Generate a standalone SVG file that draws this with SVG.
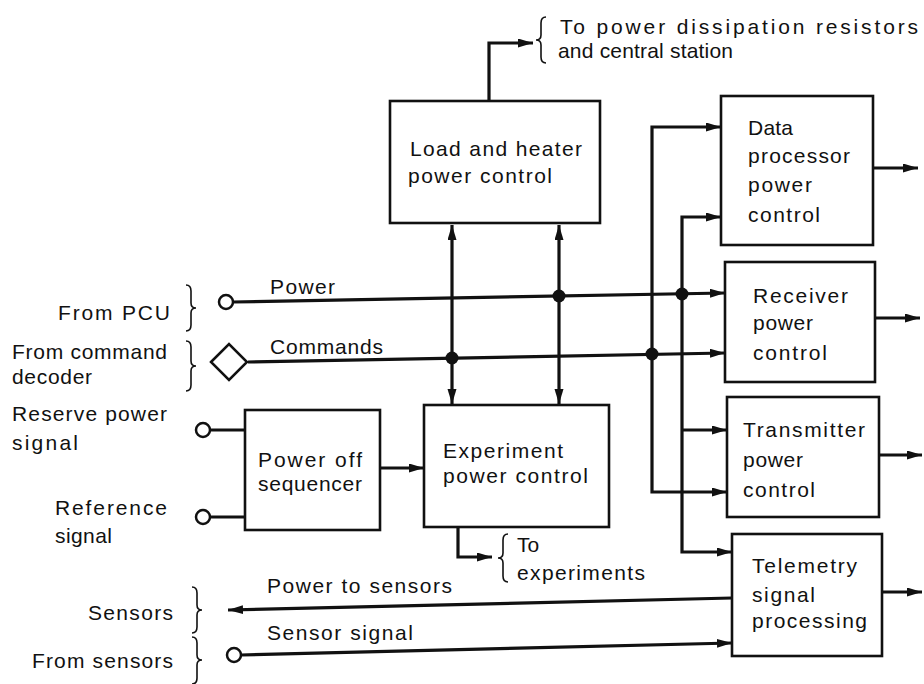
<svg xmlns="http://www.w3.org/2000/svg" width="924" height="684" viewBox="0 0 924 684">
<style>
  text { font-family: "Liberation Sans", Arial, sans-serif; font-size: 21px; fill: #111; }
  .box { fill: #fff; stroke: #111; stroke-width: 2.6; }
  .ln { fill: none; stroke: #111; stroke-width: 3.2; }
  .arr { marker-end: url(#ah); }
  .dbl { marker-start: url(#ah); marker-end: url(#ah); }
  .term { fill: #fff; stroke: #111; stroke-width: 2.5; }
  .brace { fill: none; stroke: #111; stroke-width: 1.6; }
  .dot { fill: #111; }
</style>
<defs>
  <marker id="ah" markerUnits="userSpaceOnUse" markerWidth="16" markerHeight="10" refX="15" refY="4.5" orient="auto-start-reverse">
    <path d="M0,0 L15,4.5 L0,9 z" fill="#111"/>
  </marker>
</defs>
<rect width="924" height="684" fill="#fff"/>

<g id="connectors">
  <path class="ln arr" d="M489,101 V43 H533"/>
  <line class="ln dbl" x1="452" y1="225" x2="452" y2="404"/>
  <line class="ln dbl" x1="559" y1="225" x2="559" y2="404"/>
  <line class="ln arr" x1="233" y1="302" x2="725" y2="293"/>
  <line class="ln arr" x1="248" y1="362" x2="725" y2="353"/>
  <path class="ln dbl" d="M721,127 H652 V492 H727"/>
  <path class="ln dbl" d="M721,217 H682 V552 H732"/>
  <path class="ln arr" d="M682,430 H727"/>
  <line class="ln" x1="210" y1="430" x2="245" y2="430"/>
  <line class="ln" x1="210" y1="517" x2="245" y2="517"/>
  <line class="ln arr" x1="380" y1="468" x2="424" y2="468"/>
  <path class="ln arr" d="M458,527 V557 H492"/>
  <line class="ln arr" x1="873" y1="168" x2="918" y2="168"/>
  <line class="ln arr" x1="875" y1="318" x2="920" y2="318"/>
  <line class="ln arr" x1="879" y1="455" x2="922" y2="455"/>
  <line class="ln arr" x1="882" y1="592" x2="922" y2="592"/>
  <line class="ln arr" x1="732" y1="598" x2="228" y2="610"/>
  <line class="ln arr" x1="241" y1="655" x2="732" y2="643"/>
  <circle class="dot" cx="452" cy="358" r="6.5"/>
  <circle class="dot" cx="559" cy="296" r="6.5"/>
  <circle class="dot" cx="652" cy="354" r="6.5"/>
  <circle class="dot" cx="682" cy="294" r="6.5"/>
  <text x="270" y="294" textLength="65" lengthAdjust="spacing">Power</text>
  <text x="270" y="354" textLength="113" lengthAdjust="spacing">Commands</text>
  <text x="267" y="593" textLength="185" lengthAdjust="spacing">Power to sensors</text>
  <text x="267" y="640" textLength="146" lengthAdjust="spacing">Sensor signal</text>
</g>

<g id="load-heater">
  <rect class="box" x="390" y="101" width="210" height="122"/>
  <text x="410" y="156" textLength="172" lengthAdjust="spacing">Load and heater</text>
  <text x="408" y="183" textLength="144" lengthAdjust="spacing">power control</text>
</g>

<g id="data-processor">
  <rect class="box" x="721" y="96" width="152" height="149"/>
  <text x="748" y="135" textLength="45" lengthAdjust="spacing">Data</text>
  <text x="748" y="163" textLength="102" lengthAdjust="spacing">processor</text>
  <text x="748" y="192" textLength="64" lengthAdjust="spacing">power</text>
  <text x="748" y="222" textLength="72" lengthAdjust="spacing">control</text>
</g>

<g id="receiver">
  <rect class="box" x="725" y="262" width="150" height="120"/>
  <text x="753" y="303" textLength="95" lengthAdjust="spacing">Receiver</text>
  <text x="753" y="330" textLength="60" lengthAdjust="spacing">power</text>
  <text x="753" y="360" textLength="74" lengthAdjust="spacing">control</text>
</g>

<g id="transmitter">
  <rect class="box" x="727" y="397" width="152" height="120"/>
  <text x="743" y="437" textLength="122" lengthAdjust="spacing">Transmitter</text>
  <text x="743" y="467" textLength="60" lengthAdjust="spacing">power</text>
  <text x="743" y="497" textLength="72" lengthAdjust="spacing">control</text>
</g>

<g id="telemetry">
  <rect class="box" x="732" y="534" width="150" height="122"/>
  <text x="752" y="573" textLength="105" lengthAdjust="spacing">Telemetry</text>
  <text x="752" y="602" textLength="63" lengthAdjust="spacing">signal</text>
  <text x="752" y="628" textLength="115" lengthAdjust="spacing">processing</text>
</g>

<g id="experiment">
  <rect class="box" x="424" y="405" width="185" height="122"/>
  <text x="443" y="458" textLength="120" lengthAdjust="spacing">Experiment</text>
  <text x="443" y="483" textLength="145" lengthAdjust="spacing">power control</text>
</g>

<g id="sequencer">
  <rect class="box" x="245" y="410" width="135" height="120"/>
  <text x="258" y="467" textLength="104" lengthAdjust="spacing">Power off</text>
  <text x="258" y="491" textLength="104" lengthAdjust="spacing">sequencer</text>
</g>

<g id="from-pcu">
  <text x="58" y="320" textLength="112" lengthAdjust="spacing">From PCU</text>
  <path class="brace" d="M186,285 Q191,285 191,291 L191,303 Q191,308 196,308 Q191,308 191,313 L191,325 Q191,331 186,331"/>
  <circle class="term" cx="226" cy="302" r="7"/>
</g>

<g id="from-command-decoder">
  <text x="12" y="359" textLength="155" lengthAdjust="spacing">From command</text>
  <text x="12" y="384" textLength="80" lengthAdjust="spacing">decoder</text>
  <path class="brace" d="M186,341 Q191,341 191,347 L191,361 Q191,366 196,366 Q191,366 191,371 L191,385 Q191,391 186,391"/>
  <path class="term" d="M211,362 L229,344 L247,362 L229,380 Z"/>
</g>

<g id="reserve-power">
  <text x="12" y="421" textLength="155" lengthAdjust="spacing">Reserve power</text>
  <text x="12" y="450" textLength="66" lengthAdjust="spacing">signal</text>
  <circle class="term" cx="203" cy="430" r="7"/>
</g>

<g id="reference-signal">
  <text x="55" y="515" textLength="112" lengthAdjust="spacing">Reference</text>
  <text x="55" y="543" textLength="57" lengthAdjust="spacing">signal</text>
  <circle class="term" cx="203" cy="517" r="7"/>
</g>

<g id="to-dissipation">
  <path class="brace" d="M546,17 Q541,17 541,23 L541,35 Q541,40 536,40 Q541,40 541,45 L541,57 Q541,63 546,63"/>
  <text x="560" y="34" textLength="358" lengthAdjust="spacing">To power dissipation resistors</text>
  <text x="558" y="58" textLength="175" lengthAdjust="spacing">and central station</text>
</g>

<g id="to-experiments">
  <path class="brace" d="M508,534 Q503,534 503,540 L503,553 Q503,558 498,558 Q503,558 503,563 L503,576 Q503,582 508,582"/>
  <text x="517" y="552">To</text>
  <text x="517" y="580" textLength="128" lengthAdjust="spacing">experiments</text>
</g>

<g id="sensors">
  <text x="88" y="620" textLength="85" lengthAdjust="spacing">Sensors</text>
  <path class="brace" d="M192,587 Q197,587 197,593 L197,605 Q197,610 202,610 Q197,610 197,615 L197,627 Q197,633 192,633"/>
</g>

<g id="from-sensors">
  <text x="32" y="668" textLength="141" lengthAdjust="spacing">From sensors</text>
  <path class="brace" d="M192,637 Q197,637 197,643 L197,655 Q197,660 202,660 Q197,660 197,665 L197,678 Q197,684 192,684"/>
  <circle class="term" cx="234" cy="655" r="7"/>
</g>
</svg>
